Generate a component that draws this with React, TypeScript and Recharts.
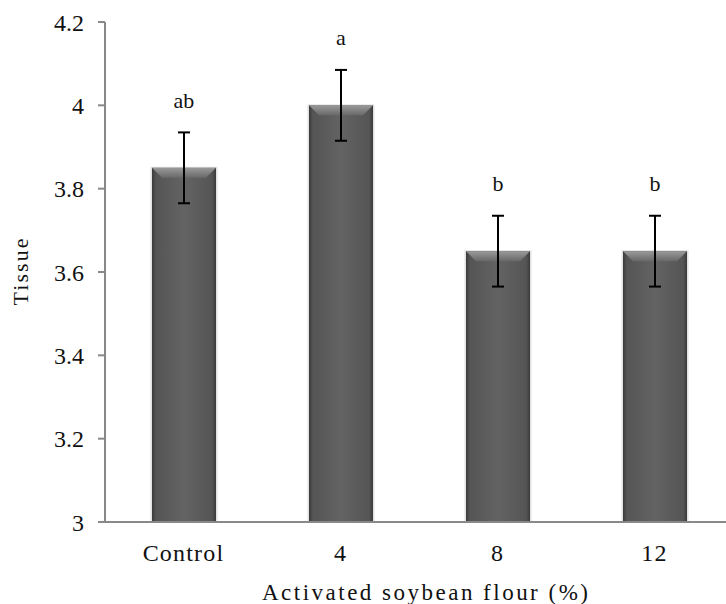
import React from 'react';
import { BarChart, Bar, XAxis, YAxis, ErrorBar, LabelList } from 'recharts';

const categories = ['Control', '4', '8', '12'];
const tissueMeans = [3.85, 4.0, 3.65, 3.65];
const tissueErrors = [0.085, 0.085, 0.085, 0.085];
const groupLetters = ['ab', 'a', 'b', 'b'];
const yTicks = [3, 3.2, 3.4, 3.6, 3.8, 4, 4.2];

const data = categories.map((name, i) => ({
  name,
  tissue: tissueMeans[i],
  err: tissueErrors[i],
  letter: groupLetters[i],
}));

const serif = '"Liberation Serif", "Times New Roman", serif';
const axisGray = '#898989';

function BevelBar(props: any) {
  const { x, y, width, height } = props;
  const b = Math.min(10, height / 2);
  return (
    <g>
      <rect x={x - 1.5} y={y - 1} width={width + 3} height={height + 1} fill="#cfcfcf" opacity={0.6} />
      <rect x={x} y={y} width={width} height={height} fill="url(#barBody)" />
      <polygon
        points={`${x},${y} ${x + width},${y} ${x + width - b},${y + b} ${x + b},${y + b}`}
        fill="url(#barTop)"
      />
    </g>
  );
}

function XTick(props: any) {
  const { x, y, payload } = props;
  return (
    <text x={x} y={y} dy={39} textAnchor="middle" fontFamily={serif} fontSize={24} letterSpacing={1.2} fill="#111">
      {payload.value}
    </text>
  );
}

function LetterLabel(props: any) {
  const { x, y, width, value } = props;
  return (
    <text x={x + width / 2} y={y - 60} textAnchor="middle" fontFamily={serif} fontSize={22} fill="#111">
      {value}
    </text>
  );
}

export default function App() {
  return (
    <div style={{ position: 'absolute', left: 0, top: 0, width: 726, height: 604, overflow: 'hidden', background: '#fff' }}>
      <BarChart width={740} height={604} data={data} margin={{ top: 22, right: 7, left: 0, bottom: 0 }}>
        <defs>
          <linearGradient id="barBody" x1="0" y1="0" x2="1" y2="0">
            <stop offset="0%" stopColor="#3a3a3a" />
            <stop offset="6%" stopColor="#555555" />
            <stop offset="50%" stopColor="#636363" />
            <stop offset="94%" stopColor="#555555" />
            <stop offset="100%" stopColor="#3a3a3a" />
          </linearGradient>
          <linearGradient id="barTop" x1="0" y1="0" x2="0" y2="1">
            <stop offset="0%" stopColor="#9a9a9a" />
            <stop offset="100%" stopColor="#686868" />
          </linearGradient>
        </defs>
        <XAxis
          dataKey="name"
          stroke={axisGray}
          strokeWidth={2}
          tickLine={false}
          tickSize={0}
          tickMargin={0}
          height={82}
          tick={<XTick />}
          label={{
            content: (p: any) => {
              const vb = p.viewBox;
              return (
                <text
                  x={vb.x + vb.width / 2 + 6}
                  y={vb.y + 78}
                  textAnchor="middle"
                  fontFamily={serif}
                  fontSize={23}
                  fill="#111"
                  textLength={326}
                  lengthAdjust="spacing"
                >
                  Activated soybean flour (%)
                </text>
              );
            },
          }}
        />
        <YAxis
          domain={[3, 4.2]}
          ticks={yTicks}
          interval={0}
          stroke={axisGray}
          strokeWidth={2}
          tickSize={7}
          tickMargin={14}
          width={105}
          tick={{ fontFamily: serif, fontSize: 24, fill: '#111' }}
          label={{
            content: (p: any) => {
              const vb = p.viewBox;
              const cx = vb.x + 28;
              const cy = vb.y + vb.height / 2;
              return (
                <text
                  x={cx}
                  y={cy}
                  transform={`rotate(-90, ${cx}, ${cy})`}
                  textAnchor="middle"
                  fontFamily={serif}
                  fontSize={22}
                  fill="#111"
                  textLength={67}
                  lengthAdjust="spacing"
                >
                  Tissue
                </text>
              );
            },
          }}
        />
        <Bar dataKey="tissue" barSize={64} shape={<BevelBar />} isAnimationActive={false}>
          <ErrorBar dataKey="err" width={6} strokeWidth={2} stroke="#000" />
          <LabelList dataKey="letter" content={<LetterLabel />} />
        </Bar>
      </BarChart>
    </div>
  );
}
